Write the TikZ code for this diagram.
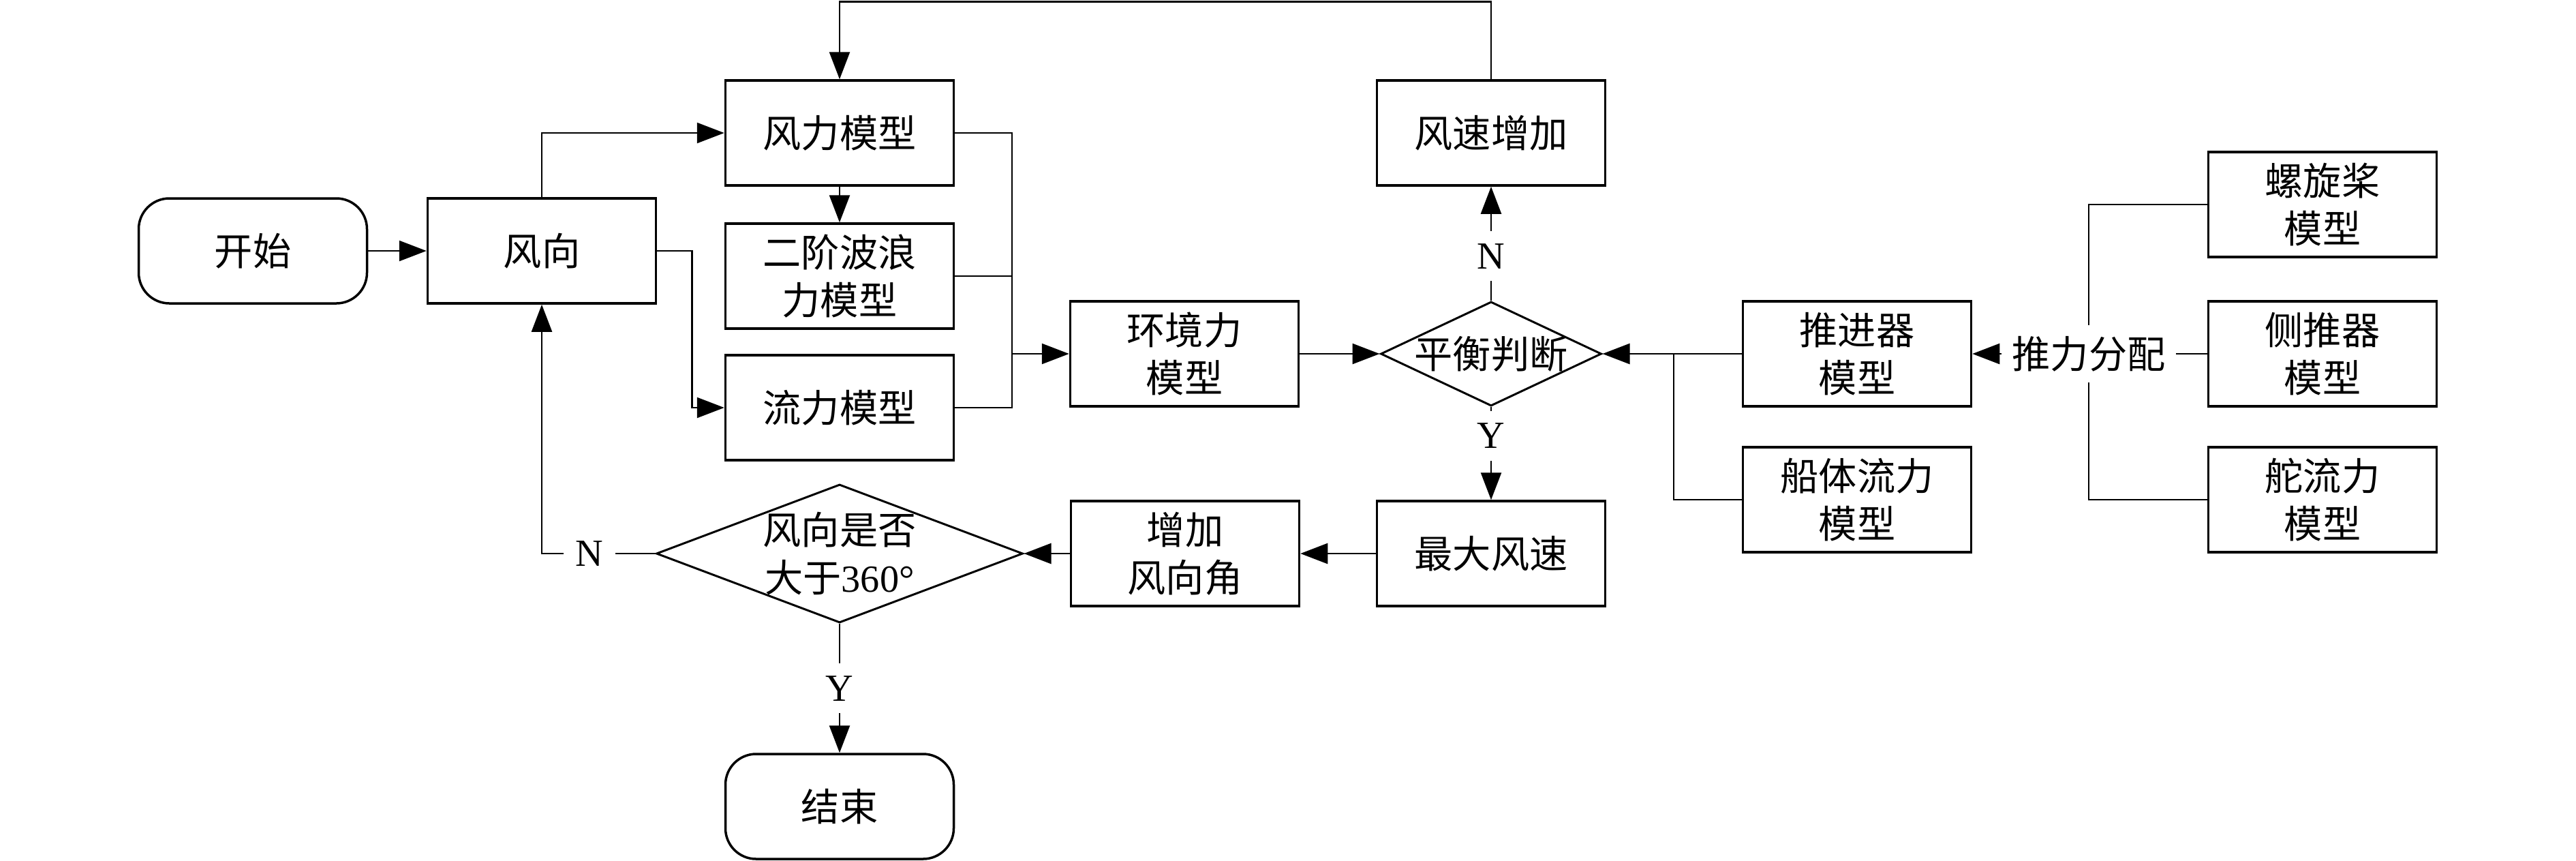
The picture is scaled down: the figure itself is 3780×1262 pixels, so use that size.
\documentclass[tikz,border=0pt]{standalone}
\usepackage{fontspec}
\setmainfont{Liberation Serif}
\newfontfamily\cjk{Noto Sans CJK SC}
\newfontfamily\latin{Liberation Serif}
\usetikzlibrary{arrows.meta,shapes.geometric}
\tikzset{
	txt/.style={font=\cjk\fontsize{16pt}{20pt}\selectfont},
	box/.style={draw, txt, line width=0.35mm, minimum width=33.5mm, minimum height=15.4mm, align=center, inner sep=0pt},
	term/.style={box, rounded corners=4.5mm},
	decision/.style={draw, diamond, line width=0.3mm, inner sep=0pt,
			label={[txt, align=center]center:#1}},
	yn/.style={fill=white, inner sep=1.8mm, font=\latin\fontsize{16pt}{20pt}\selectfont},
	link/.style={line width=0.25mm}
}

\begin{document}
\begin{tikzpicture}[x=0.1mm, y=-0.1mm, >={Triangle[length=4mm,width=3mm]}]
	\useasboundingbox (0,0) rectangle (3780,1262);
	\node[term] (ks) at (371,368) {开始};
	\node[box] (fx) at (795,368) {风向};
	\node[box] (fl) at (1232,195) {风力模型};
	\node[box] (bl) at (1232,405) {二阶波浪\\力模型};
	\node[box] (ll) at (1232,598) {流力模型};
	\node[box] (hj) at (1738,519) {环境力\\模型};
	\node[decision={平衡判断}, minimum width=32.4mm, minimum height=15.3mm] (ph) at (2188,519) {};
	\node[box] (fs) at (2188,195) {风速增加};
	\node[box] (zd) at (2188,812) {最大风速};
	\node[box] (zj) at (1739,812) {增加\\风向角};
	\node[decision={风向是否\\大于{\latin 360°}}, minimum width=53.8mm, minimum height=20.3mm] (pd) at (1232,812) {};
	\node[term] (js) at (1232,1183) {结束};
	\node[box] (tj) at (2725,519) {推进器\\模型};
	\node[box] (cl) at (2725,733) {船体流力\\模型};
	\node[txt, inner sep=1.5mm] (tl) at (3065,519) {推力分配};
	\node[box] (lx) at (3408,300) {螺旋桨\\模型};
	\node[box] (cc) at (3408,519) {侧推器\\模型};
	\node[box] (dl) at (3408,733) {舵流力\\模型};

	\draw[link,->] (ks) -- (fx);
	\draw[link,->] (fx.north) |- (fl.west);
	\draw[link,->] (fl) -- (bl);
	\draw[link,->] (fx.east) -- ++(51,0) |- (ll.west);
	\coordinate (hub) at (1485,519);
	\draw[link] (fl.east) -| (hub) (bl.east) -| (hub) (ll.east) -| (hub);
	\draw[link,->] (hub) -- (hj);
	\draw[link,->] (hj) -- (ph);
	\draw[link,->] (ph) -- node[yn,pos=0.39]{N} (fs);
	\draw[link,->] (fs.north) -- ++(0,-114) -| (fl.north);
	\draw[link,->] (ph) -- node[yn,pos=0.31]{Y} (zd);
	\draw[link,->] (zd) -- (zj);
	\draw[link,->] (zj) -- (pd);
	\draw[link,->] (pd.west) -| node[yn,pos=0.29]{N} (fx.south);
	\draw[link,->] (pd) -- node[yn]{Y} (js);
	\draw[link,->] (tj) -- (ph);
	\coordinate (jn) at (2456,519);
	\draw[link] (cl.west) -| (jn);
	\draw[link,->] (tl) -- (tj);
	\draw[link] (cc) -- (tl);
	\draw[link] (lx.west) -| (tl.north) (dl.west) -| (tl.south);
\end{tikzpicture}
\end{document}
